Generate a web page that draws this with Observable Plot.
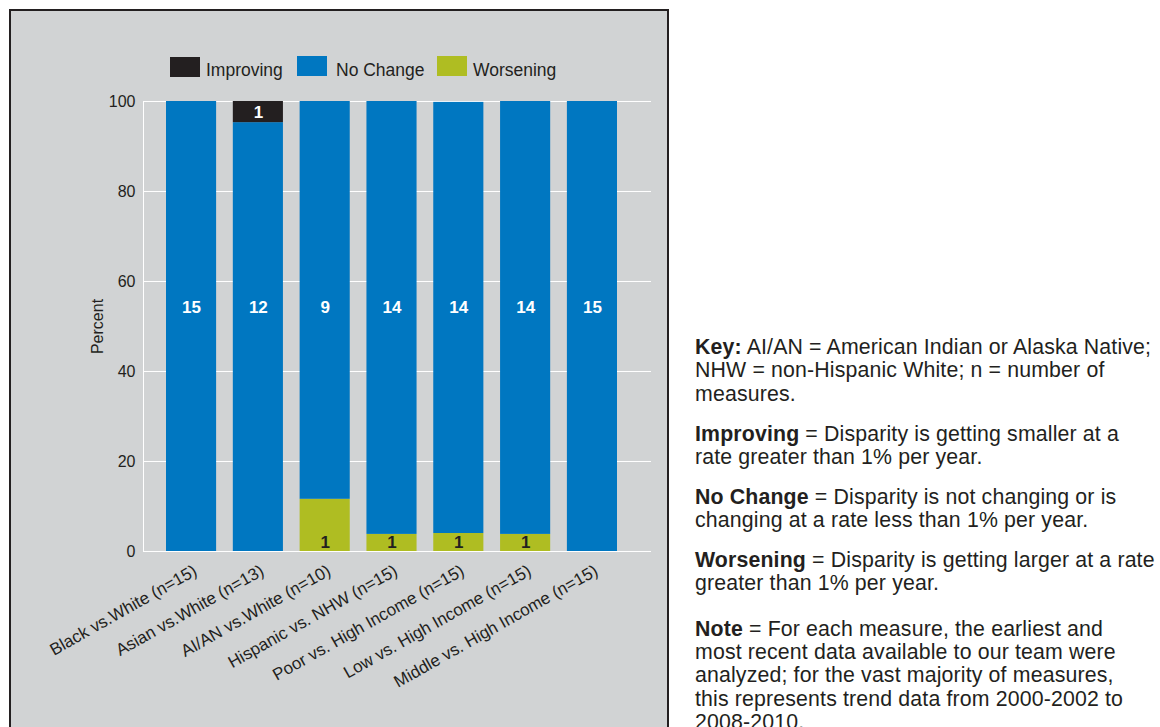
<!DOCTYPE html>
<html>
<head>
<meta charset="utf-8">
<script src="https://cdn.jsdelivr.net/npm/d3@7"></script>
<script src="https://cdn.jsdelivr.net/npm/@observablehq/plot@0.6"></script>
<style>
  html, body { margin: 0; padding: 0; background: #ffffff; width: 1160px; height: 727px; overflow: hidden; }
  body { position: relative; font-family: "Liberation Sans", Arial, sans-serif; color: #231f20; }
  #panel { position: absolute; left: 9px; top: 9px; width: 656px; height: 740px; background: #d1d3d4; border: 2px solid #231f20; }
  #chart { position: absolute; left: 0; top: 0; }
  .sw { position: absolute; width: 30px; height: 19.5px; }
  .lt { position: absolute; top: 60px; font-size: 17.5px; line-height: 20px; color: #231f20; white-space: nowrap; }
  #key { position: absolute; left: 695px; top: 336px; font-size: 21.3px; line-height: 23.3px; letter-spacing: 0.15px; color: #231f20; white-space: nowrap; }
  #key p { margin: 0 0 16.7px 0; }
  #key p.note { margin-top: 22px; }
</style>
</head>
<body>
<div id="panel"></div>
<div id="chart"></div>
<div id="legend"></div>
<div id="key">
  <p><b>Key:</b> AI/AN = American Indian or Alaska Native;<br>NHW = non-Hispanic White; n = number of<br>measures.</p>
  <p><b>Improving</b> = Disparity is getting smaller at a<br>rate greater than 1% per year.</p>
  <p><b>No Change</b> = Disparity is not changing or is<br>changing at a rate less than 1% per year.</p>
  <p><b>Worsening</b> = Disparity is getting larger at a rate<br>greater than 1% per year.</p>
  <p class="note"><b>Note</b> = For each measure, the earliest and<br>most recent data available to our team were<br>analyzed; for the vast majority of measures,<br>this represents trend data from 2000-2002 to<br>2008-2010.</p>
</div>
<script>
// ---- data ----
const categories = [
  "Black vs.White (n=15)",
  "Asian vs.White (n=13)",
  "AI/AN vs.White (n=10)",
  "Hispanic vs. NHW (n=15)",
  "Poor vs. High Income (n=15)",
  "Low vs. High Income (n=15)",
  "Middle vs. High Income (n=15)"
];
const series = ["Improving", "No Change", "Worsening"];
const colors = ["#231f20", "#0077c1", "#afbd22"];
// percent values
const worseningPct = [0, 0, 11.6, 3.8, 4.0, 3.8, 0];
const noChangePct  = [100, 95.3, 88.4, 96.2, 95.8, 96.2, 100];
const improvingPct = [0, 4.7, 0, 0, 0, 0, 0];
// counts shown as labels
const worseningN = [0, 0, 1, 1, 1, 1, 0];
const noChangeN  = [15, 12, 9, 14, 14, 14, 15];
const improvingN = [0, 1, 0, 0, 0, 0, 0];
const yTicks = [0, 20, 40, 60, 80, 100];

// ---- tables ----
const rows = [];
categories.forEach((c, i) => {
  rows.push({cat: c, series: "Worsening", value: worseningPct[i]});
  rows.push({cat: c, series: "No Change", value: noChangePct[i]});
  rows.push({cat: c, series: "Improving", value: improvingPct[i]});
});
const ncLabels = categories.map((c, i) => ({cat: c, n: noChangeN[i]}));
const wLabels = categories.map((c, i) => ({cat: c, n: worseningN[i]})).filter(d => d.n > 0);
const iLabels = categories.map((c, i) => ({
  cat: c, n: improvingN[i],
  y: worseningPct[i] + noChangePct[i] + improvingPct[i] / 2
})).filter(d => d.n > 0);

const font = "'Liberation Sans', Arial, sans-serif";

const chart = Plot.plot({
  width: 680,
  height: 727,
  marginLeft: 143,
  marginRight: 29,
  marginTop: 101,
  marginBottom: 176,
  style: {background: "transparent", fontFamily: font, color: "#231f20"},
  x: {domain: categories, range: [166, 617], paddingInner: 0.25, paddingOuter: 0, round: false, axis: null},
  y: {domain: [0, 100], axis: null},
  color: {domain: series, range: colors},
  marks: [
    Plot.gridY(yTicks, {stroke: "white", strokeOpacity: 1, strokeWidth: 1}),
    Plot.frame({anchor: "left", stroke: "white", strokeWidth: 1}),
    Plot.axisY({ticks: yTicks, tickSize: 0, tickPadding: 8, fontSize: 16, label: null}),
    Plot.text(["Percent"], {frameAnchor: "left", textAnchor: "middle", dx: -46, rotate: -90, fontSize: 16, fill: "#231f20"}),
    Plot.barY(rows, Plot.stackY({
      x: "cat", y: "value", fill: "series",
      order: ["Worsening", "No Change", "Improving"]
    })),
    Plot.text(ncLabels, {x: "cat", y: () => 54.3, text: d => String(d.n), fill: "white", fontWeight: "bold", fontSize: 17}),
    Plot.text(wLabels, {x: "cat", y: () => 0, dy: -8.5, text: d => String(d.n), fill: "#231f20", fontWeight: "bold", fontSize: 17}),
    Plot.text(iLabels, {x: "cat", y: "y", text: d => String(d.n), fill: "white", fontWeight: "bold", fontSize: 17}),
    Plot.text(categories, {x: d => d, frameAnchor: "bottom", rotate: -29.5, textAnchor: "end", lineAnchor: "middle", dx: 4, dy: 18, fontSize: 17, fill: "#231f20"})
  ]
});
document.getElementById("chart").appendChild(chart);

// legend (HTML, from series/colors)
const legendPos = [[170, 206, 57.3], [297, 336, 56], [437, 473, 56]];
const lg = document.getElementById("legend");
series.forEach((s, i) => {
  const sw = document.createElement("div");
  sw.className = "sw";
  sw.style.left = legendPos[i][0] + "px";
  sw.style.top = legendPos[i][2] + "px";
  sw.style.background = colors[i];
  lg.appendChild(sw);
  const t = document.createElement("div");
  t.className = "lt";
  t.style.left = legendPos[i][1] + "px";
  t.textContent = s;
  lg.appendChild(t);
});
</script>
</body>
</html>
